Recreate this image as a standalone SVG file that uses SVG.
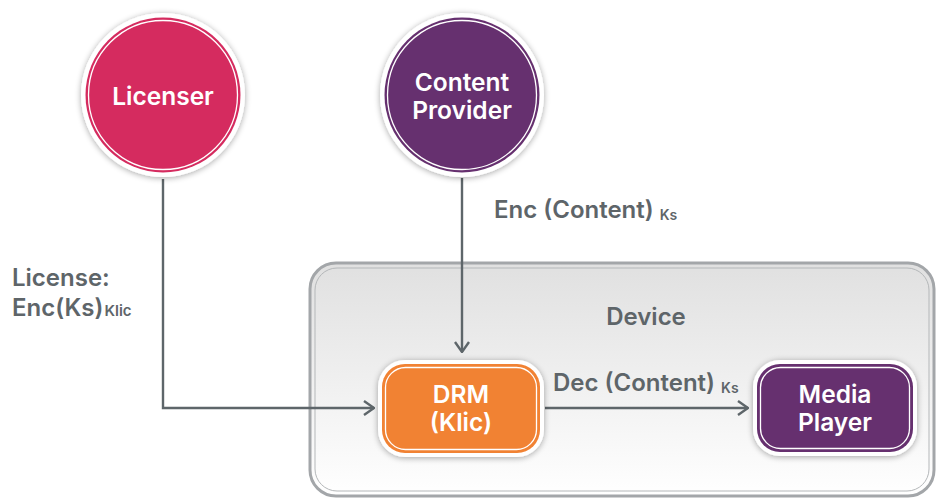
<svg xmlns="http://www.w3.org/2000/svg" width="936" height="500" viewBox="0 0 936 500">
  <defs>
    <linearGradient id="deviceFill" x1="0" y1="0" x2="0" y2="1">
      <stop offset="0" stop-color="#e0e0e0"/>
      <stop offset="1" stop-color="#ffffff"/>
    </linearGradient>
    <filter id="shadow" x="-20%" y="-20%" width="140%" height="140%">
      <feGaussianBlur in="SourceAlpha" stdDeviation="3"/>
      <feOffset dx="0" dy="1"/>
      <feComponentTransfer><feFuncA type="linear" slope="0.35"/></feComponentTransfer>
      <feMerge><feMergeNode/><feMergeNode in="SourceGraphic"/></feMerge>
    </filter>
    <marker id="chevron" viewBox="0 0 12 16" refX="11" refY="8" markerWidth="12" markerHeight="16" markerUnits="userSpaceOnUse" orient="auto">
      <path d="M1,1 L11,8 L1,15" fill="none" stroke="#5e666a" stroke-width="2.4"/>
    </marker>
  </defs>
  <style>
    .lbl { font-family: Inter, "Noto Sans", "Liberation Sans", sans-serif; font-weight: 600; fill: #5e6569; }
    .node-text { font-family: Inter, "Noto Sans", "Liberation Sans", sans-serif; font-weight: 600; fill: #ffffff; font-size: 24.5px; text-anchor: middle; }
    .ring { fill: #ffffff; filter: url(#shadow); }
    .inner { fill: none; stroke: #ffffff; stroke-width: 1.3; }
    .wire { fill: none; stroke: #5e666a; stroke-width: 2.4; }
  </style>

  <rect width="936" height="500" fill="#ffffff"/>

  <!-- device container -->
  <g id="device">
    <rect x="310" y="263" width="624" height="233" rx="26" fill="url(#deviceFill)" stroke="#a3a6a9" stroke-width="3"/>
    <rect x="315" y="268" width="614" height="223" rx="22" fill="none" stroke="#b4b7b9" stroke-width="1"/>
    <text class="lbl" x="646" y="325" font-size="24" text-anchor="middle">Device</text>
  </g>

  <!-- connectors -->
  <g id="connectors">
    <path class="wire" d="M163,179 V408 H374" marker-end="url(#chevron)"/>
    <path class="wire" d="M462,178 V352" marker-end="url(#chevron)"/>
    <path class="wire" d="M545,408 H748" marker-end="url(#chevron)"/>
    <text class="lbl" x="12" y="286" font-size="24">License:</text>
    <text class="lbl" x="12" y="316" font-size="24">Enc(Ks)<tspan font-size="15" dx="1">Klic</tspan></text>
    <text class="lbl" x="494" y="218" font-size="24">Enc (Content) <tspan font-size="14" dy="2">Ks</tspan></text>
    <text class="lbl" x="553" y="391" font-size="24">Dec (Content) <tspan font-size="14" dy="2">Ks</tspan></text>
  </g>

  <!-- licenser -->
  <g id="licenser">
    <circle class="ring" cx="163" cy="95" r="82"/>
    <circle cx="163" cy="95" r="77.5" fill="#d52b5f"/>
    <circle class="inner" cx="163" cy="95" r="74.5"/>
    <text class="node-text" x="163" y="105">Licenser</text>
  </g>

  <!-- content provider -->
  <g id="content-provider">
    <circle class="ring" cx="462" cy="95" r="82"/>
    <circle cx="462" cy="95" r="77.5" fill="#66306f"/>
    <circle class="inner" cx="462" cy="95" r="74.5"/>
    <text class="node-text" x="462" y="91">Content</text>
    <text class="node-text" x="462" y="119">Provider</text>
  </g>

  <!-- DRM -->
  <g id="drm">
    <rect class="ring" x="378" y="360" width="166" height="97" rx="27"/>
    <rect x="382" y="364" width="158" height="89" rx="23" fill="#f18233"/>
    <rect class="inner" x="385.5" y="367.5" width="151" height="82" rx="20"/>
    <text class="node-text" x="461" y="403">DRM</text>
    <text class="node-text" x="461" y="431">(Klic)</text>
  </g>

  <!-- media player -->
  <g id="media-player">
    <rect class="ring" x="753" y="360" width="164" height="96" rx="27"/>
    <rect x="757" y="364" width="156" height="88" rx="23" fill="#66306f"/>
    <rect class="inner" x="760.5" y="367.5" width="149" height="81" rx="20"/>
    <text class="node-text" x="835" y="403">Media</text>
    <text class="node-text" x="835" y="431">Player</text>
  </g>
</svg>
